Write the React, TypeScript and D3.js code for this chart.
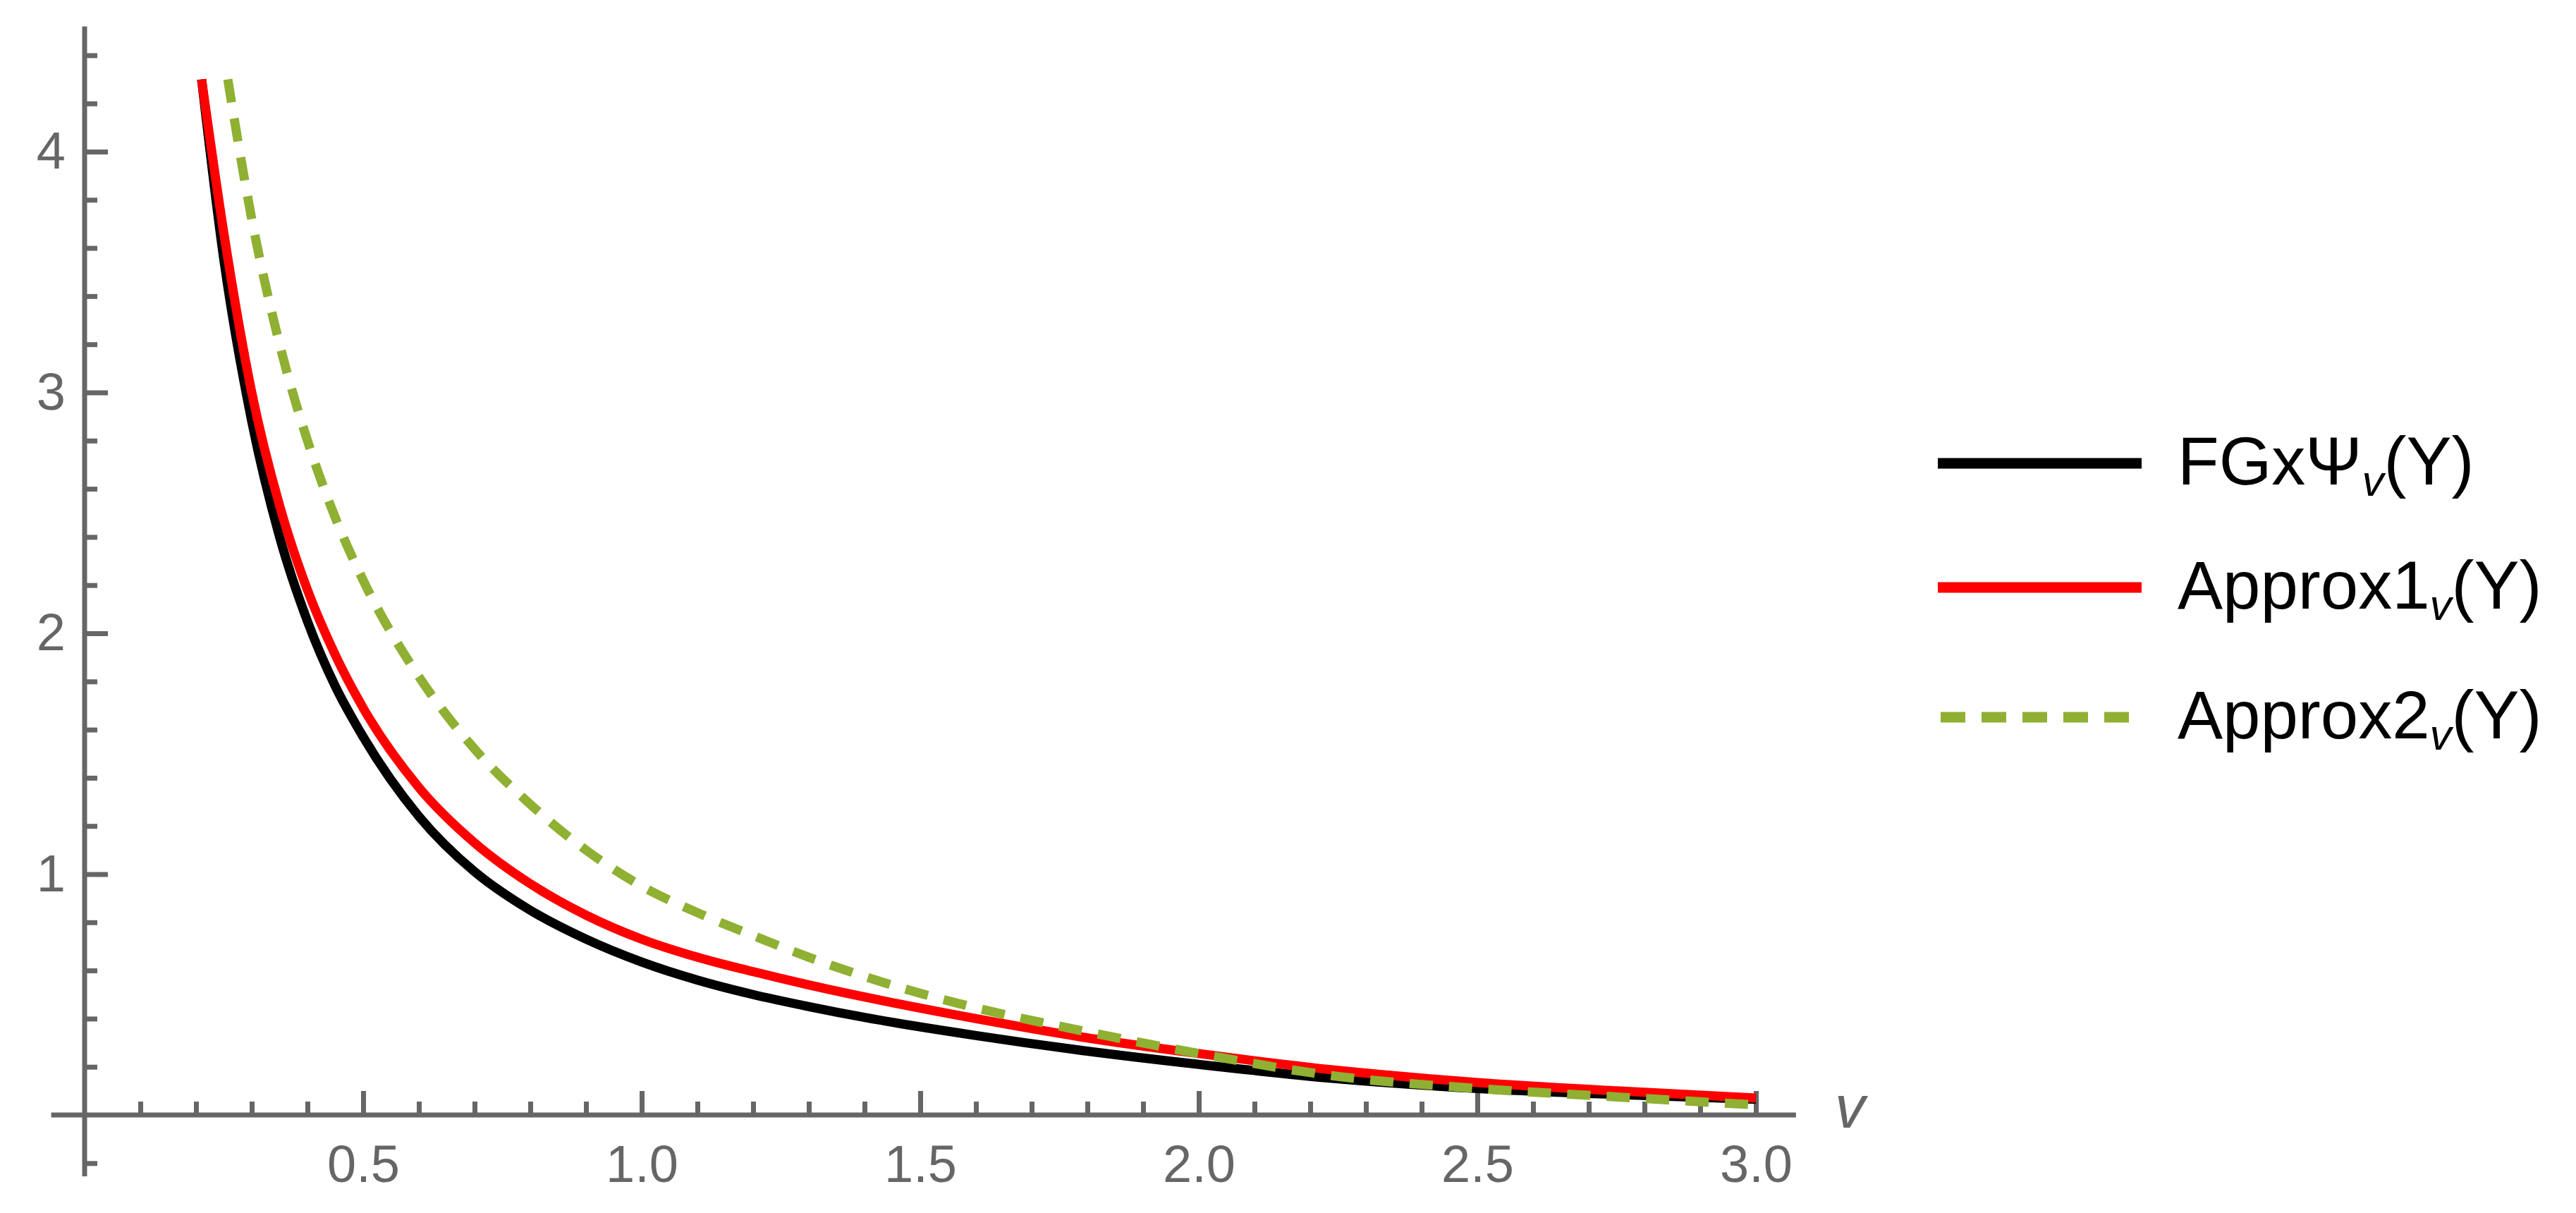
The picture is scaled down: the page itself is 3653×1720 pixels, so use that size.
import React, { useEffect, useRef } from "react";
import * as d3 from "d3";

// values
const nuMain = [0.21, 0.25, 0.3, 0.35, 0.4, 0.45, 0.5, 0.6, 0.7, 0.8, 0.9, 1.0, 1.1, 1.2, 1.3, 1.4, 1.6, 1.8, 2.0, 2.25, 2.5, 2.75, 3.0];
const fgValues = [4.3, 3.55, 2.88, 2.4, 2.05, 1.78, 1.57, 1.24, 1.01, 0.85, 0.73, 0.635, 0.56, 0.5, 0.45, 0.405, 0.33, 0.265, 0.21, 0.15, 0.11, 0.085, 0.065];
const approx1Values = [4.3, 3.66, 3.0, 2.53, 2.18, 1.91, 1.69, 1.36, 1.13, 0.96, 0.83, 0.73, 0.655, 0.595, 0.54, 0.49, 0.4, 0.32, 0.255, 0.185, 0.135, 0.1, 0.07];

const nuApprox2 = [0.257, 0.3, 0.35, 0.4, 0.45, 0.5, 0.6, 0.7, 0.8, 0.9, 1.0, 1.1, 1.2, 1.3, 1.4, 1.5, 1.6, 1.8, 2.0, 2.25, 2.5, 2.75, 3.0];
const approx2Values = [4.3, 3.72, 3.2, 2.8, 2.48, 2.22, 1.82, 1.52, 1.29, 1.1, 0.95, 0.84, 0.745, 0.655, 0.575, 0.505, 0.445, 0.345, 0.255, 0.16, 0.11, 0.075, 0.042];

const xTickLabels = [0.5, 1.0, 1.5, 2.0, 2.5, 3.0];
const yTickLabels = [1, 2, 3, 4];

const series = [
  { name: "FGxΨ", color: "#000000", dash: null, x: nuMain, y: fgValues },
  { name: "Approx1", color: "#ff0000", dash: null, x: nuMain, y: approx1Values },
  { name: "Approx2", color: "#8fb032", dash: "33 23", x: nuApprox2, y: approx2Values },
];

const W = 3653;
const H = 1720;
const AXIS = "#666666";

export default function App() {
  const ref = useRef<SVGSVGElement>(null);

  useEffect(() => {
    const svg = d3.select(ref.current);
    svg.selectAll("*").remove();

    const x = d3.scaleLinear().domain([0, 3]).range([120, 2490]);
    const y = d3.scaleLinear().domain([0, 4]).range([1581, 215]);

    const g = svg.append("g");

    // minor ticks (no labels)
    const xMinor = d3.range(1, 31).map((d) => d / 10).filter((d) => Math.round(d * 10) % 5 !== 0);
    const yMinor = d3.range(-1, 23).map((d) => d / 5).filter((d) => Math.round(d * 5) % 5 !== 0);

    const fmt = d3.format(".1f");

    const xMinorAxis = g.append("g").attr("transform", `translate(0,${y(0)})`)
      .call(d3.axisBottom(x).tickValues(xMinor).tickSize(-19).tickFormat(() => ""));
    const xMajorAxis = g.append("g").attr("transform", `translate(0,${y(0)})`)
      .call(d3.axisBottom(x).tickValues(xTickLabels).tickSize(-34).tickPadding(42).tickFormat((d) => fmt(+d)));
    const yMinorAxis = g.append("g").attr("transform", `translate(${x(0)},0)`)
      .call(d3.axisLeft(y).tickValues(yMinor).tickSize(-18).tickFormat(() => ""));
    const yMajorAxis = g.append("g").attr("transform", `translate(${x(0)},0)`)
      .call(d3.axisLeft(y).tickValues(yTickLabels).tickSize(-33).tickPadding(27).tickFormat((d) => String(d)));

    [xMinorAxis, xMajorAxis, yMinorAxis, yMajorAxis].forEach((a) => {
      a.select(".domain").remove();
      a.selectAll("line").attr("stroke", AXIS).attr("stroke-width", 7);
      a.selectAll("text")
        .attr("fill", AXIS)
        .attr("font-family", "Liberation Sans, Arial, sans-serif")
        .attr("font-size", 74);
    });
    xMajorAxis.selectAll("text").attr("dy", "0.71em");

    // axis lines
    g.append("line")
      .attr("x1", x(-0.06)).attr("x2", x(3.072))
      .attr("y1", y(0)).attr("y2", y(0))
      .attr("stroke", AXIS).attr("stroke-width", 7);
    g.append("line")
      .attr("x1", x(0)).attr("x2", x(0))
      .attr("y1", y(-0.255)).attr("y2", y(4.52))
      .attr("stroke", AXIS).attr("stroke-width", 7);

    g.append("text")
      .attr("x", x(3.072) + 55).attr("y", y(0) + 18)
      .attr("fill", AXIS)
      .attr("font-family", "Liberation Sans, Arial, sans-serif")
      .attr("font-style", "italic")
      .attr("font-size", 86)
      .text("v");

    // curves
    const line = d3.line<[number, number]>()
      .x((d) => x(d[0]))
      .y((d) => y(d[1]))
      .curve(d3.curveMonotoneX);

    series.forEach((s) => {
      const pts = s.x.map((v, i) => [v, s.y[i]] as [number, number]);
      g.append("path")
        .attr("d", line(pts))
        .attr("fill", "none")
        .attr("stroke", s.color)
        .attr("stroke-width", 13)
        .attr("stroke-dasharray", s.dash)
        .attr("stroke-linejoin", "round");
    });

    // legend
    const legY = [657, 833, 1017];
    series.forEach((s, i) => {
      const lg = g.append("g").attr("transform", `translate(0,${legY[i]})`);
      lg.append("line")
        .attr("x1", s.dash ? 2752 : 2748).attr("x2", s.dash ? 3022 : 3037)
        .attr("y1", 0).attr("y2", 0)
        .attr("stroke", s.color)
        .attr("stroke-width", 15)
        .attr("stroke-dasharray", s.dash ? "35 23" : null);
      const t = lg.append("text")
        .attr("x", 3088).attr("y", 30)
        .attr("font-family", "Liberation Sans, Arial, sans-serif")
        .attr("font-size", 96)
        .attr("fill", "#000");
      t.append("tspan").text(s.name);
      t.append("tspan").attr("font-size", 62).attr("font-style", "italic").attr("dy", 16).text("v");
      t.append("tspan").attr("dy", -16).text("(Y)");
    });
  }, []);

  return (
    <svg
      ref={ref}
      width={W}
      height={H}
      style={{ position: "absolute", left: 0, top: 0, background: "#fff" }}
    />
  );
}
